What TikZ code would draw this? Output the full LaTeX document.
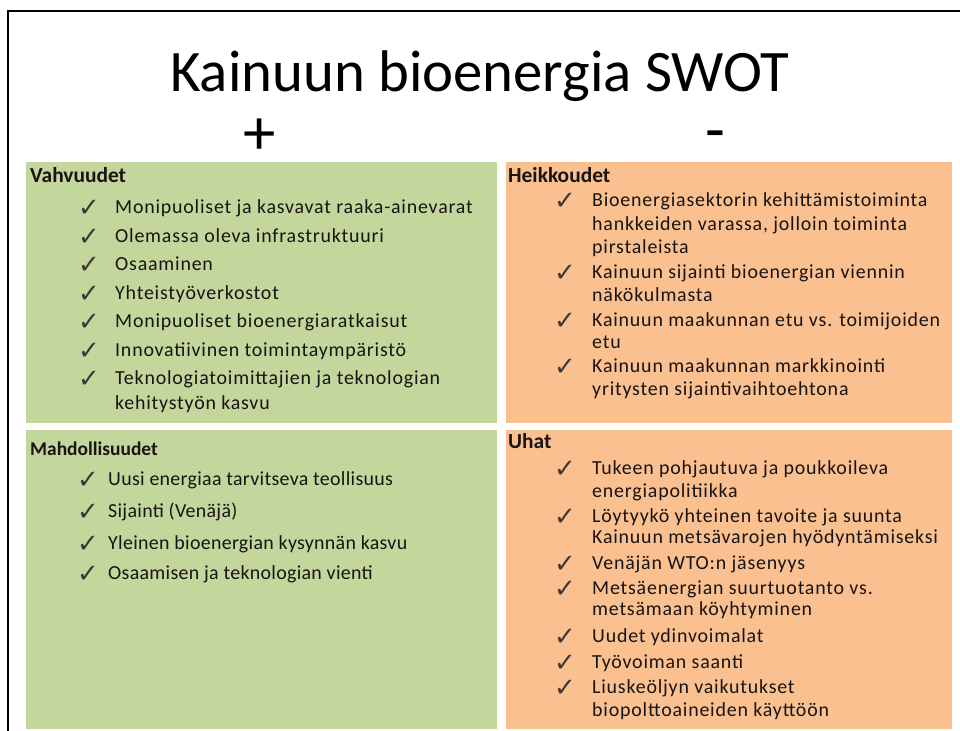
\documentclass[tikz,border=0pt]{standalone}
\usepackage{fontspec}
\setmainfont{Carlito}
\newfontfamily\spwide[LetterSpace=4]{Carlito}
\newfontfamily\spmid[LetterSpace=1.5]{Carlito}
\newfontfamily\dejavu{DejaVu Sans}
\definecolor{swgreen}{RGB}{195,214,155}
\definecolor{sworange}{RGB}{250,192,144}
\definecolor{swtext}{RGB}{25,20,20}
\begin{document}
\begin{tikzpicture}[x=1bp,y=-1bp,
  txt/.style={anchor=base west, inner sep=0pt, text=swtext, font=\spwide\fontsize{20}{24}\selectfont},
  txtm/.style={anchor=base west, inner sep=0pt, text=swtext, font=\spmid\fontsize{20}{24}\selectfont},
  hdr/.style={anchor=base west, inner sep=0pt, text=swtext, font=\fontsize{21.5}{24}\selectfont\bfseries},
  hdrm/.style={anchor=base west, inner sep=0pt, text=swtext, font=\fontsize{19.5}{24}\selectfont\bfseries},
  chk/.style={anchor=base west, inner sep=0pt, text height=12bp, text depth=0bp, text=swtext!85!white, font=\dejavu\fontsize{26}{28}\selectfont},
  big/.style={inner sep=0pt, anchor=base, text=black, font=\fontsize{59}{64}\selectfont},
  box/.style={draw=white, line width=0.8bp}]
\useasboundingbox (0,0) rectangle (960,731);
% frame
\draw[line width=1.5bp] (8,731) -- (8,11) -- (960,11);
% title
\node[big] (title) at (480,92) {Kainuun bioenergia SWOT};
\node[big, font=\fontsize{65}{70}\selectfont] (plus) at (260,155) {+};
\node[big, font=\fontsize{65}{70}\selectfont] (minus) at (715,152) {-};
% boxes
\fill[swgreen,box] (25,161) rectangle (497,423);
\fill[sworange,box] (505,161) rectangle (952,423);
\fill[swgreen,box] (25,429) rectangle (497,729);
\fill[sworange,box] (505,429) rectangle (952,729);
% Vahvuudet
\node[hdr] (vh) at (30,183) {Vahvuudet};
\foreach \y [count=\i] in {216,245,273,302,330,359,387} {\node[chk] (vc\i) at (78,\y) {✓};}
\node[txt] (v1) at (115,213) {Monipuoliset ja kasvavat raaka-ainevarat};
\node[txt] (v2) at (115,242) {Olemassa oleva infrastruktuuri};
\node[txt] (v3) at (115,270) {Osaaminen};
\node[txt] (v4) at (115,299) {Yhteistyöverkostot};
\node[txt] (v5) at (115,327) {Monipuoliset bioenergiaratkaisut};
\node[txt] (v6) at (115,356) {Innovatiivinen toimintaympäristö};
\node[txt] (v7) at (115,384) {Teknologiatoimittajien ja teknologian};
\node[txt] (v7b) at (115,409) {kehitystyön kasvu};
% Heikkoudet
\node[hdr] (hh) at (508,183) {Heikkoudet};
\foreach \y [count=\i] in {209,281,329,375} {\node[chk] (hc\i) at (554,\y) {✓};}
\node[txt] (h1) at (592,206) {Bioenergiasektorin kehittämistoiminta};
\node[txt] (h1b) at (592,230) {hankkeiden varassa, jolloin toiminta};
\node[txt] (h1c) at (592,253) {pirstaleista};
\node[txt] (h2) at (592,278) {Kainuun sijainti bioenergian viennin};
\node[txt] (h2b) at (592,301) {näkökulmasta};
\node[txt] (h3) at (592,326) {Kainuun maakunnan etu vs. toimijoiden};
\node[txt] (h3b) at (592,348) {etu};
\node[txt] (h4) at (592,372) {Kainuun maakunnan markkinointi};
\node[txt] (h4b) at (592,395) {yritysten sijaintivaihtoehtona};
% Mahdollisuudet
\node[hdrm] (mh) at (30,455) {Mahdollisuudet};
\foreach \y [count=\i] in {488,520,552,582} {\node[chk] (mc\i) at (77,\y) {✓};}
\node[txtm] (m1) at (108,485) {Uusi energiaa tarvitseva teollisuus};
\node[txtm] (m2) at (108,517) {Sijainti (Venäjä)};
\node[txtm] (m3) at (108,549) {Yleinen bioenergian kysynnän kasvu};
\node[txtm] (m4) at (108,579) {Osaamisen ja teknologian vienti};
% Uhat
\node[hdr] (uh) at (508,448) {Uhat};
\foreach \y [count=\i] in {477,525,572,597,645,671,696} {\node[chk] (uc\i) at (554,\y) {✓};}
\node[txt] (u1) at (592,474) {Tukeen pohjautuva ja poukkoileva};
\node[txt] (u1b) at (592,497) {energiapolitiikka};
\node[txt] (u2) at (592,522) {Löytyykö yhteinen tavoite ja suunta};
\node[txt] (u2b) at (592,543) {Kainuun metsävarojen hyödyntämiseksi};
\node[txt] (u3) at (592,569) {Venäjän WTO:n jäsenyys};
\node[txt] (u4) at (592,594) {Metsäenergian suurtuotanto vs.};
\node[txt] (u4b) at (592,615) {metsämaan köyhtyminen};
\node[txt] (u5) at (592,642) {Uudet ydinvoimalat};
\node[txt] (u6) at (592,668) {Työvoiman saanti};
\node[txt] (u7) at (592,693) {Liuskeöljyn vaikutukset};
\node[txt] (u7b) at (592,716) {biopolttoaineiden käyttöön};
\end{tikzpicture}
\end{document}
